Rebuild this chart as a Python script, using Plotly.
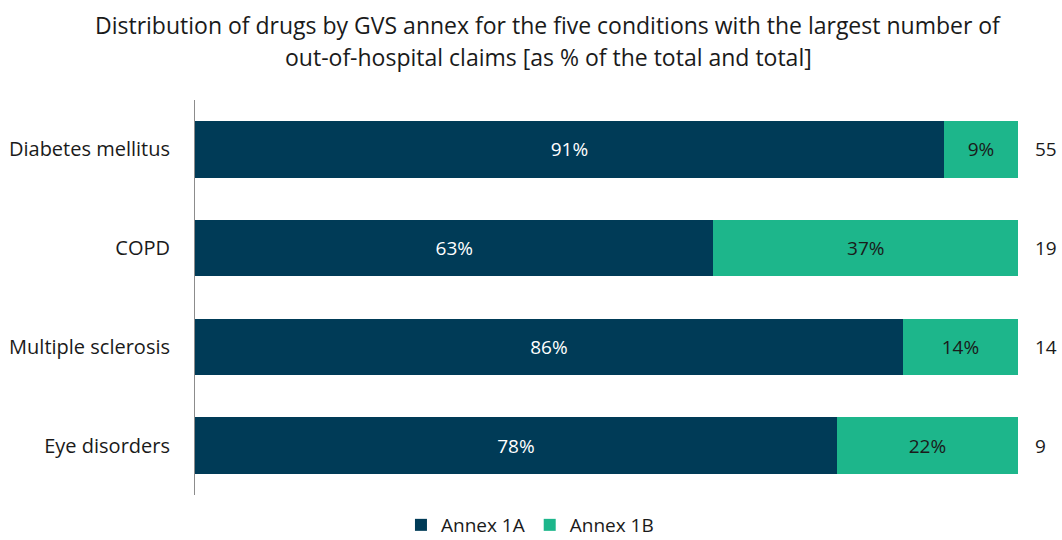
import plotly.graph_objects as go

categories = ["Diabetes mellitus", "COPD", "Multiple sclerosis", "Eye disorders"]
annex_1a = [91, 63, 86, 78]
annex_1b = [9, 37, 14, 22]
totals = [55, 19, 14, 9]
title_lines = [
    "Distribution of drugs by GVS annex for the five conditions with the largest number of",
    "out-of-hospital claims [as % of the total and total]",
]

FONT = "'Open Sans', 'Noto Sans', sans-serif"
DARK = "#003B57"
GREEN = "#1DB68B"
TXT = "#1a1a1a"

fig = go.Figure()
fig.add_trace(go.Bar(
    y=categories, x=annex_1a, orientation="h", name="Annex 1A",
    marker=dict(color=DARK, line=dict(width=0)),
    text=[f"{v}%" for v in annex_1a], textposition="inside",
    insidetextanchor="middle", textangle=0,
    textfont=dict(color="white", size=19, family=FONT),
))
fig.add_trace(go.Bar(
    y=categories, x=annex_1b, orientation="h", name="Annex 1B",
    marker=dict(color=GREEN, line=dict(width=0)),
    text=[f"{v}%" for v in annex_1b], textposition="inside",
    insidetextanchor="middle", textangle=0,
    textfont=dict(color=TXT, size=19, family=FONT),
))

for c, t in zip(categories, totals):
    fig.add_annotation(x=1.018, y=c, xref="paper", yref="y", text=str(t),
                       showarrow=False, xanchor="left",
                       font=dict(size=19, color=TXT, family=FONT))

# two-line title, placed as paper annotations to control line spacing
for py, line in zip([25, 57], title_lines):
    fig.add_annotation(x=(548 - 195) / 823, xref="paper", xanchor="center",
                       y=(495 - py) / 395, yref="paper", yanchor="middle",
                       text=line, showarrow=False,
                       font=dict(size=23, color=TXT, family=FONT))

fig.update_layout(
    barmode="stack",
    bargap=0.43,
    width=1062, height=540,
    margin=dict(l=195, r=44, t=100, b=45, autoexpand=False),
    paper_bgcolor="white", plot_bgcolor="white",
    font=dict(family=FONT, size=19, color=TXT),
    legend=dict(orientation="h", x=0.407, xanchor="center", xref="paper",
                y=(495 - 525) / 395, yanchor="middle",
                font=dict(size=19, family=FONT, color=TXT),
                traceorder="normal"),
)

fig.update_xaxes(range=[0, 100], showticklabels=False, showgrid=False,
                 zeroline=False, showline=False, ticks="", automargin=False)
fig.update_yaxes(autorange="reversed", showgrid=False, zeroline=False,
                 showline=True, linecolor="#8c8c8c", linewidth=1,
                 ticks="", ticklabelstandoff=20, automargin=False,
                 tickfont=dict(size=20, family=FONT, color=TXT))

fig.write_html("out.html", config={"displayModeBar": False},
               post_script="document.body.style.margin='0';")
